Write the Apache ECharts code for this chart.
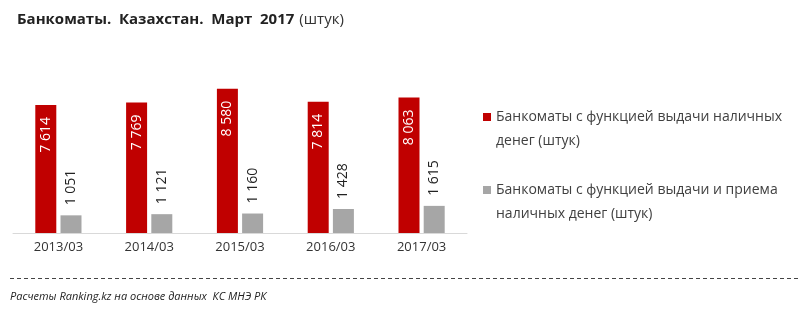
<!DOCTYPE html>
<html><head><meta charset="utf-8">
<script src="https://cdn.jsdelivr.net/npm/echarts@6/dist/echarts.min.js"></script>
<style>html,body{margin:0;padding:0;background:#fff}#c{width:800px;height:313px}</style>
</head><body><div id="c"></div>
<script>
const categories = ['2013/03', '2014/03', '2015/03', '2016/03', '2017/03'];
const cashOut = [7614, 7769, 8580, 7814, 8063];
const cashInOut = [1051, 1121, 1160, 1428, 1615];
const seriesNames = ['Банкоматы с функцией выдачи наличных\nденег (штук)', 'Банкоматы с функцией выдачи и приема\nналичных денег (штук)'];
const titleMain = 'Банкоматы.  Казахстан.  Март  2017';
const titleUnit = '(штук)';
const sourceText = 'Расчеты Ranking.kz на основе данных  КС МНЭ РК';

const fmt = v => String(v).replace(/\B(?=(\d{3})+(?!\d))/g, ' ');
const FONT = 'Open Sans';
const chart = echarts.init(document.getElementById('c'));
chart.setOption({
  animation: false,
  title: {
    left: 12, top: 6, padding: 5,
    text: '{b|' + titleMain + '} {n|' + titleUnit + '}',
    textStyle: {
      fontWeight: 'normal',
      rich: {
        b: { fontFamily: FONT, fontWeight: 'bold', fontSize: 15, color: '#222' },
        n: { fontFamily: FONT, fontWeight: 'normal', fontSize: 15, color: '#333' }
      }
    }
  },
  legend: {
    orient: 'vertical', left: 483, top: 81, padding: 0,
    itemWidth: 8, itemHeight: 8, itemGap: 1,
    icon: 'rect',
    formatter: n => '\n' + n,
    textStyle: { fontFamily: FONT, fontSize: 14, color: '#404040', lineHeight: 24 }
  },
  grid: { left: 13, right: 333, top: 65, bottom: 80, containLabel: false },
  xAxis: {
    type: 'category', data: categories,
    axisLine: { lineStyle: { color: '#d9d9d9', width: 1 } },
    axisTick: { show: false },
    axisLabel: { fontFamily: FONT, fontSize: 13, color: '#333', margin: 8 }
  },
  yAxis: { type: 'value', min: 0, max: 10000, show: false, splitLine: { show: false } },
  series: [
    {
      name: seriesNames[0], type: 'bar', data: cashOut, barWidth: 21, barGap: '20%',
      itemStyle: { color: '#c00000' },
      label: { show: true, position: 'insideTop', distance: 12, rotate: 90, align: 'right', verticalAlign: 'middle',
        color: '#fff', fontFamily: FONT, fontSize: 14, formatter: p => fmt(p.value) }
    },
    {
      name: seriesNames[1], type: 'bar', data: cashInOut, barWidth: 21,
      itemStyle: { color: '#a6a6a6' },
      label: { show: true, position: 'top', distance: 10, rotate: 90, align: 'left', verticalAlign: 'middle',
        color: '#222', fontFamily: FONT, fontSize: 14, formatter: p => fmt(p.value) }
    }
  ],
  graphic: [
    { type: 'line', shape: { x1: 10, y1: 278.5, x2: 800, y2: 278.5 }, style: { stroke: '#444', lineWidth: 1, lineDash: [4, 3] } },
    { type: 'text', left: 10, top: 291, style: { text: sourceText, fontFamily: FONT, fontStyle: 'italic', fontSize: 11, fill: '#222' } }
  ]
});
</script></body></html>
